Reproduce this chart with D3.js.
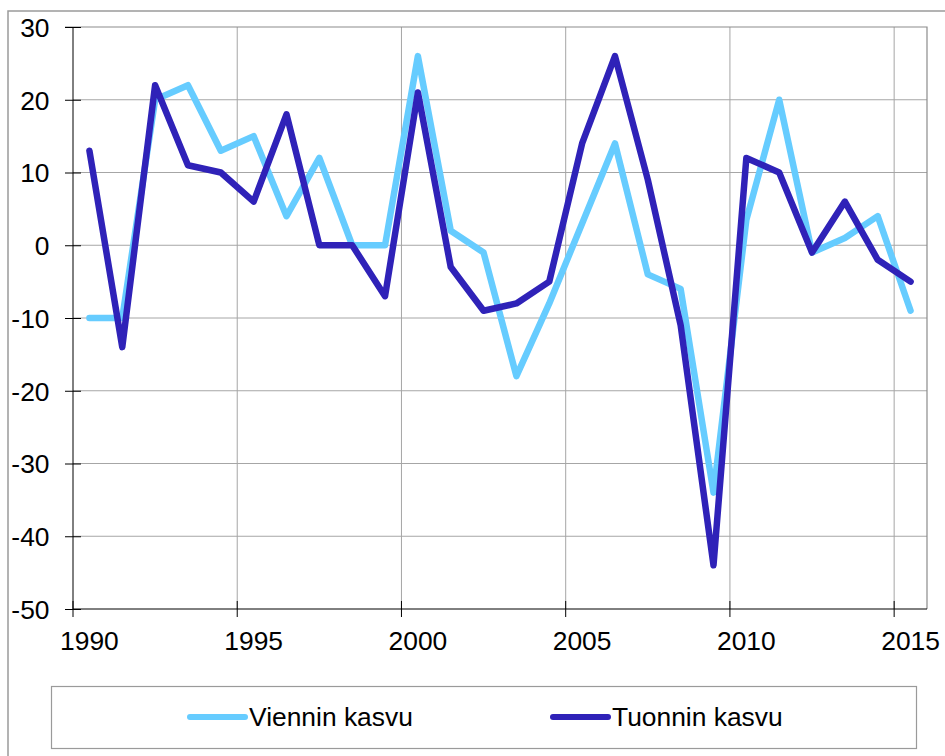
<!DOCTYPE html>
<html lang="fi">
<head>
    <meta charset="UTF-8">
    <title>Viennin ja tuonnin kasvu</title>
    <script src="https://d3js.org/d3.v7.min.js"></script>
</head>
<body>
<div id="chart">
    <svg></svg>
</div>
</body>

<style>
    body {
        margin: 0;
        background: #fff;
    }

    text {
        font-family: "Liberation Sans", Arial, sans-serif;
        font-size: 26.4px;
        fill: #000;
    }

    .grid line {
        stroke: #a6a6a6;
        stroke-width: 1px;
    }

    path.series {
        fill: none;
        stroke-width: 6.5px;
        stroke-linejoin: round;
        stroke-linecap: round;
    }
</style>

<script>
    // data (annual growth, %)
    const years = d3.range(1990, 2016);
    const viennin = [-10, -10, 20, 22, 13, 15, 4, 12, 0, 0,
        26, 2, -1, -18, -8, 3, 14, -4, -6, -34,
        3.5, 20, -1, 1, 4, -9];
    const tuonnin = [13, -14, 22, 11, 10, 6, 18, 0, 0, -7,
        21, -3, -9, -8, -5, 14, 26, 9, -11, -44,
        12, 10, -1, 6, -2, -5];
    const yTicks = [-50, -40, -30, -20, -10, 0, 10, 20, 30];
    const xLabels = [1990, 1995, 2000, 2005, 2010, 2015];

    const seriesList = [
        {name: 'Viennin kasvu', values: viennin, color: '#66ccff'},
        {name: 'Tuonnin kasvu', values: tuonnin, color: '#2f22b8'}
    ];

    const width = 945;
    const height = 756;
    const plot = {left: 73, right: 927, top: 27, bottom: 609};
    const fontSize = '26.4px';

    const svg = d3.select('svg')
        .attr('width', width)
        .attr('height', height)
        .style('display', 'block');

    // outer chart frame (runs off the right and bottom edge)
    svg.append('rect')
        .attr('x', 8)
        .attr('y', 11)
        .attr('width', 960)
        .attr('height', 780)
        .attr('fill', '#fff')
        .attr('stroke', '#9a9a9a')
        .attr('stroke-width', 1.5);

    const x = d3.scaleBand()
        .domain(years)
        .range([plot.left, plot.right])
        .padding(0);

    const y = d3.scaleLinear()
        .domain([-50, 30])
        .range([plot.bottom, plot.top]);

    const bw = x.bandwidth();

    // gridlines
    const grid = svg.append('g').attr('class', 'grid');

    grid.selectAll('line.h')
        .data(yTicks.filter(d => d > -50 && d < 30))
        .join('line')
        .attr('class', 'h')
        .attr('x1', plot.left)
        .attr('x2', plot.right)
        .attr('y1', d => y(d))
        .attr('y2', d => y(d));

    grid.selectAll('line.v')
        .data(xLabels.filter(d => d > 1990))
        .join('line')
        .attr('class', 'v')
        .attr('x1', d => x(d))
        .attr('x2', d => x(d))
        .attr('y1', plot.top)
        .attr('y2', plot.bottom);

    // top and right border of the plot area
    svg.append('path')
        .attr('d', `M${plot.left - 8},${plot.top}H${plot.right}V${plot.bottom}`)
        .attr('fill', 'none')
        .attr('stroke', '#8c8c8c')
        .attr('stroke-width', 1.2);

    // lines
    const line = d3.line()
        .x((d, i) => x(years[i]) + bw / 2)
        .y(d => y(d));

    svg.append('g')
        .selectAll('path')
        .data(seriesList)
        .join('path')
        .attr('class', 'series')
        .attr('stroke', d => d.color)
        .attr('d', d => line(d.values));

    // y axis
    const yAxis = svg.append('g')
        .attr('transform', `translate(${plot.left},0)`)
        .call(d3.axisLeft(y).tickValues(yTicks).tickSize(8).tickFormat(d => String(d)));

    yAxis.select('.domain').attr('stroke', '#000').attr('d', `M0,${plot.top}V${plot.bottom}`);
    yAxis.selectAll('.tick line').attr('x1', 8).attr('stroke', '#000');
    yAxis.selectAll('.tick text')
        .attr('x', -23.5)
        .attr('dy', '0.35em')
        .style('font-size', fontSize)
        .style('font-family', '"Liberation Sans", Arial, sans-serif')
        .attr('fill', '#000');

    // x axis: ticks on category edges, labels in the middle
    const xAxis = svg.append('g')
        .attr('transform', `translate(0,${plot.bottom})`)
        .call(d3.axisBottom(x).tickValues(xLabels).tickSize(8));

    xAxis.select('.domain').attr('stroke', '#000').attr('d', `M${plot.left},0H${plot.right}`);
    xAxis.selectAll('.tick line')
        .attr('x1', -bw / 2)
        .attr('x2', -bw / 2)
        .attr('y1', -8)
        .attr('y2', 8)
        .attr('stroke', '#000');
    xAxis.selectAll('.tick text')
        .attr('y', 41)
        .attr('dy', 0)
        .style('font-size', fontSize)
        .style('font-family', '"Liberation Sans", Arial, sans-serif')
        .attr('fill', '#000');

    // legend
    const legend = svg.append('g');

    legend.append('rect')
        .attr('x', 51.5)
        .attr('y', 686.5)
        .attr('width', 865)
        .attr('height', 62)
        .attr('fill', '#fff')
        .attr('stroke', '#9a9a9a')
        .attr('stroke-width', 1.2);

    const legendX = [190, 553];

    const item = legend.selectAll('g.item')
        .data(seriesList)
        .join('g')
        .attr('class', 'item')
        .attr('transform', (d, i) => `translate(${legendX[i]},717)`);

    item.append('line')
        .attr('x1', 0)
        .attr('x2', 55)
        .attr('stroke', d => d.color)
        .attr('stroke-width', 6)
        .attr('stroke-linecap', 'round');

    item.append('text')
        .attr('x', 59)
        .attr('dy', '0.35em')
        .text(d => d.name);
</script>
</html>
